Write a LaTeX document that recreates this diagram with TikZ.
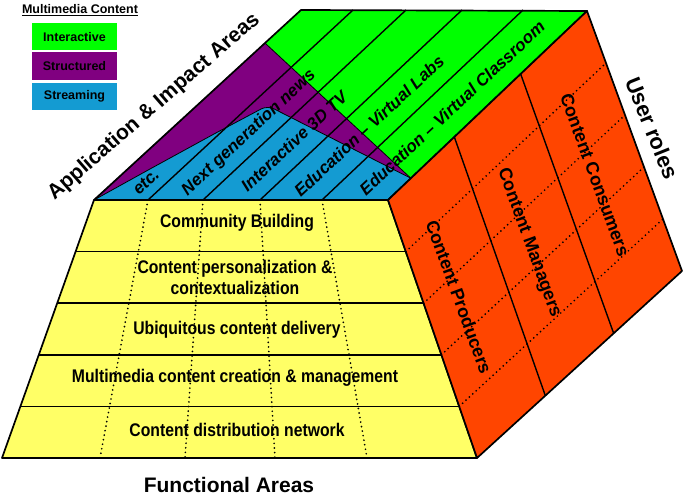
\documentclass[tikz,border=0pt]{standalone}
\usepackage{fontspec}
\setmainfont{Liberation Sans}
\newfontfamily\condfont[FakeStretch=0.86]{Liberation Sans}
\usetikzlibrary{calc}
\definecolor{cgreen}{RGB}{0,255,0}
\definecolor{cpurple}{RGB}{128,0,128}
\definecolor{cblue}{RGB}{20,155,210}
\definecolor{corange}{RGB}{255,69,0}
\definecolor{cyellow}{RGB}{255,255,102}
\tikzset{
  edge/.style={draw=black, line width=1.7pt, line join=round},
  stripe/.style={draw=black, line width=1.4pt},
  regionline/.style={draw=black, line width=0.8pt, line join=round},
  dotline/.style={draw=black, line width=1.9pt, dash pattern=on 0pt off 4.6pt, line cap=round},
  rowtxt/.style={font=\condfont\bfseries\fontsize{18.3}{21}\selectfont, align=center, inner sep=0pt},
  toptxt/.style={font=\bfseries\itshape\fontsize{17}{19}\selectfont, rotate=43, inner sep=0pt},
  roletxt/.style={font=\bfseries\fontsize{18}{20}\selectfont, rotate=-70, inner sep=0pt},
  legbox/.style={minimum width=85pt, minimum height=27.5pt, inner sep=0pt,
                 font=\bfseries\fontsize{12.5}{14}\selectfont},
  biglabel/.style={font=\bfseries\fontsize{21}{24}\selectfont, inner sep=0pt}
}
\begin{document}
\begin{tikzpicture}[x=1pt,y=-1pt]
\useasboundingbox (0,0) rectangle (685,497);
% corners
\coordinate (FL) at (94,200);
\coordinate (TB) at (388,200);
\coordinate (TC) at (587,11);
\coordinate (TD) at (301,10);
\coordinate (BL) at (2,458);
\coordinate (BR) at (477,458);
\coordinate (OE) at (682,271);
\coordinate (M) at ($(TB)!0.115!(TC)$);
\coordinate (PL) at ($(FL)!0.826!(TD)$);
% stripe points
\coordinate (f1) at (148,200); \coordinate (f2) at (203,200);
\coordinate (f3) at (260,200); \coordinate (f4) at (322,200);
\coordinate (b1) at (353,10);  \coordinate (b2) at (406,10);
\coordinate (b3) at (462,10);  \coordinate (b4) at (523,10);
\coordinate (y1) at (100,458); \coordinate (y2) at (185,458);
\coordinate (y3) at (275,458); \coordinate (y4) at (367,458);

% ---- front (yellow) face
\fill[cyellow] (FL) -- (TB) -- (BR) -- (BL) -- cycle;
\foreach \k in {1,2,3,4}{
  \draw[dotline] (f\k) -- (y\k);
}
\foreach \k in {1,2,3,4}{
  \pgfmathsetmacro\t{\k/5}
  \draw[line width=1.5pt] ($(FL)!\t!(BL)$) -- ($(TB)!\t!(BR)$);
}
\draw[edge] (FL) -- (TB) -- (BR) -- (BL) -- cycle;

% ---- top face
\fill[cgreen] (FL) -- (TD) -- (TC) -- (TB) -- cycle;
\filldraw[fill=cpurple, regionline] (FL) -- (PL) -- (M) -- (TB) -- cycle;
\filldraw[fill=cblue, regionline] (FL) -- (150,169) -- (214,134)
   [rounded corners=7pt] -- (267.5,105.6) [sharp corners] -- (M) -- (TB) -- cycle;
\foreach \k in {1,2,3,4}{
  \draw[stripe] (f\k) -- (b\k);
}
\draw[edge] (FL) -- (TD) -- (TC) -- (TB) -- cycle;

% ---- right (orange) face
\fill[corange] (TB) -- (TC) -- (OE) -- (BR) -- cycle;
\foreach \k in {1,2,3,4}{
  \pgfmathsetmacro\t{\k/5}
  \draw[dotline] ($(TB)!\t!(BR)$) -- ($(TC)!\t!(OE)$);
}
\foreach \k in {1,2}{
  \pgfmathsetmacro\t{\k/3}
  \draw[stripe] ($(TB)!\t!(TC)$) -- ($(BR)!\t!(OE)$);
}
\draw[edge] (TB) -- (TC) -- (OE) -- (BR) -- cycle;

% ---- row texts
\node[rowtxt] (r1) at (237,223) {Community Building};
\node[rowtxt] (r2) at (235,277) {Content personalization \&\\contextualization};
\node[rowtxt] (r3) at (237,330) {Ubiquitous content delivery};
\node[rowtxt] (r4) at (235,378) {Multimedia content creation \& management};
\node[rowtxt] (r5) at (237,430) {Content distribution network};

% ---- top texts
\node[toptxt] (t1) at (146,182) {etc.};
\node[toptxt] (t2) at (249,133) {Next generation news};
\node[toptxt] (t3) at (294,141) {Interactive 3D TV};
\node[toptxt] (t4) at (369,126) {Education \textendash\ Virtual Labs};
\node[toptxt] (t5) at (452,108) {Education \textendash\ Virtual Classroom};

% ---- role texts
\node[roletxt] (u1) at (459,297) {Content Producers};
\node[roletxt] (u2) at (529,243) {Content Managers};
\node[roletxt] (u3) at (595,175) {Content Consumers};

% ---- big labels
\node[biglabel, rotate=41] (app) at (154,107) {Application \& Impact Areas};
\node[biglabel, font=\bfseries\fontsize{22}{24}\selectfont, rotate=-68] (user) at (652,128) {User roles};
\node[biglabel] (func) at (229,485) {Functional Areas};

% ---- legend
\node[font=\bfseries\fontsize{12.5}{14}\selectfont, inner sep=0pt] (title) at (80,10) {\underline{Multimedia Content}};
\node[legbox, fill=cgreen] (lg1) at (74.5,36.75) {Interactive};
\node[legbox, fill=cpurple] (lg2) at (74.5,66.25) {Structured};
\node[legbox, fill=cblue] (lg3) at (74.5,96.5) {Streaming};
\end{tikzpicture}
\end{document}
